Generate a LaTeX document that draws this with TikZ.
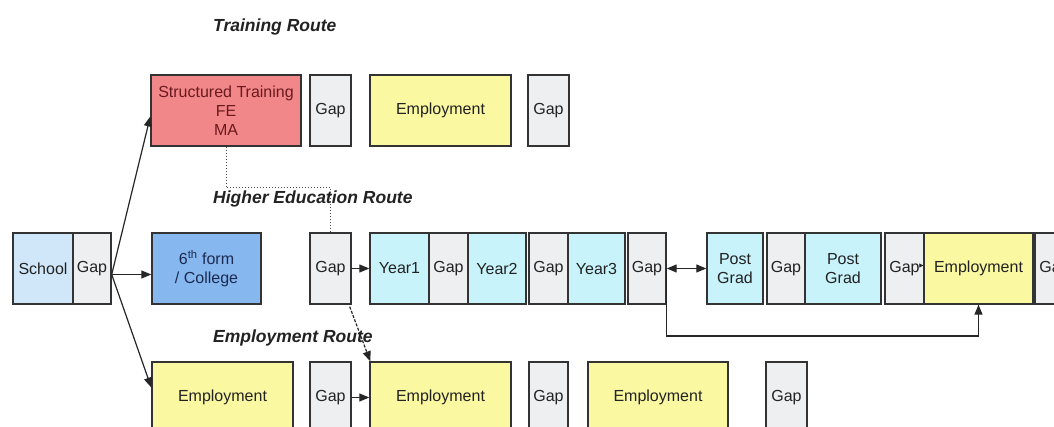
\documentclass[tikz,border=0pt]{standalone}
\usepackage{fontspec}
\setmainfont{Liberation Sans}
\usetikzlibrary{arrows.meta}

\definecolor{boxline}{HTML}{333333}
\definecolor{txt}{HTML}{222222}
\definecolor{gapfill}{HTML}{EDEFF1}
\definecolor{schoolfill}{HTML}{CFE7F8}
\definecolor{collegefill}{HTML}{86B7EE}
\definecolor{yearfill}{HTML}{C8F3FA}
\definecolor{jobfill}{HTML}{FAF8A0}
\definecolor{trainfill}{HTML}{F2878A}
\definecolor{traintxt}{HTML}{6A1A1E}
\definecolor{collegetxt}{HTML}{1C2A52}

\tikzset{
  box/.style={draw=boxline, line width=1.4pt, inner sep=0pt, align=center,
    font=\fontsize{16}{19}\selectfont, text=txt},
  gapbox/.style={box, fill=gapfill},
  schoolbox/.style={box, fill=schoolfill},
  collegebox/.style={box, fill=collegefill, text=collegetxt},
  yearbox/.style={box, fill=yearfill},
  jobbox/.style={box, fill=jobfill},
  trainbox/.style={box, fill=trainfill, text=traintxt},
  routetitle/.style={anchor=west, inner sep=0pt, text=txt,
    font=\fontsize{17.5}{20}\selectfont\bfseries\itshape},
  tip/.style={Triangle[length=10pt,width=8pt]},
  link/.style={draw=black!85, line width=1.2pt, -{Triangle[length=10pt,width=8pt]}},
  twolink/.style={draw=black!85, line width=1.2pt,
    {Triangle[length=10pt,width=8pt]}-{Triangle[length=10pt,width=8pt]}},
  dashlink/.style={link, dashed, dash pattern=on 3pt off 1.5pt},
  dotlink/.style={draw=black!70, line width=1pt, dotted},
}

% \bx{name}{left}{right}{centre y}{style}{text}
\newcommand{\bx}[6]{%
  \node[#5, minimum width={#3pt-#2pt}, minimum height=71pt] (#1)
    at ({(#2+#3)/2},#4) {#6};}

\begin{document}
\begin{tikzpicture}[x=1pt, y=-1pt]
  \clip (0,0) rectangle (1054,427);
  \fill[white] (0,0) rectangle (1054,427);

  % route titles
  \node[routetitle] (ttrain) at (213,27) {Training Route};
  \node[routetitle] (thigher) at (213,199) {Higher Education Route};
  \node[routetitle] (temploy) at (213,338) {Employment Route};

  % training route
  \bx{st}{151}{301}{110.5}{trainbox}{Structured Training\\FE\\MA}
  \bx{tg1}{310}{351}{110.5}{gapbox}{Gap}
  \bx{te1}{370}{511}{110.5}{jobbox}{Employment}
  \bx{tg2}{528}{569}{110.5}{gapbox}{Gap}

  % higher education route
  \bx{school}{13}{73}{268.5}{schoolbox}{School}
  \bx{sg}{73}{111}{268.5}{gapbox}{Gap}
  \bx{six}{152}{261}{268.5}{collegebox}{6\textsuperscript{th} form\\/ College}
  \bx{hg}{310}{351}{268.5}{gapbox}{Gap}
  \bx{y1}{370}{429}{268.5}{yearbox}{Year1}
  \bx{ga}{429}{468}{268.5}{gapbox}{Gap}
  \bx{y2}{468}{526}{268.5}{yearbox}{Year2}
  \bx{gb}{529}{568}{268.5}{gapbox}{Gap}
  \bx{y3}{568}{625}{268.5}{yearbox}{Year3}
  \bx{gc}{628}{666}{268.5}{gapbox}{Gap}
  \bx{p1}{707}{763}{268.5}{yearbox}{Post\\Grad}
  \bx{gd}{767}{805}{268.5}{gapbox}{Gap}
  \bx{p2}{805}{881}{268.5}{yearbox}{Post\\Grad}
  \bx{ge}{885}{924}{268.5}{gapbox}{Gap}
  \bx{he}{924}{1033}{268.5}{jobbox}{Employment}
  \bx{gf}{1035}{1074}{268.5}{gapbox}{Gap}

  % employment route
  \bx{ee1}{152}{293}{397.5}{jobbox}{Employment}
  \bx{eg1}{310}{351}{397.5}{gapbox}{Gap}
  \bx{ee2}{370}{511}{397.5}{jobbox}{Employment}
  \bx{eg2}{529}{568}{397.5}{gapbox}{Gap}
  \bx{ee3}{588}{728}{397.5}{jobbox}{Employment}
  \bx{eg3}{766}{807}{397.5}{gapbox}{Gap}

  % connectors
  \coordinate (fork) at ([yshift=-6pt]sg.east);
  \coordinate (dotrow) at (0,188);
  \coordinate (lowrow) at (0,336);

  \draw[link] (fork) -- ([yshift=-6pt]st.west);
  \draw[link] (fork) -- (six.west |- fork);
  \draw[link] (fork) -- ([yshift=10pt]ee1.west);

  \draw[dotlink] (st.south) -- (st.south |- dotrow) -| (hg.north);

  \draw[link] (hg.east) -- (y1.west);
  \draw[link] (eg1.east) -- (ee2.west);
  \draw[dashlink] ([xshift=-2pt,yshift=-2pt]hg.south east) -- ([xshift=1pt]ee2.north west);

  \draw[twolink] (gc.east) -- (p1.west);
  \draw[draw=black!85, line width=1.2pt] (gc.east) -- (gc.east |- lowrow) -| (he.south);
  \draw[link] ([yshift=-14pt]he.south) -- (he.south);
  \draw[draw=black!85, line width=0.8pt, -{Triangle[length=4pt,width=4pt]}]
    ([xshift=-3pt,yshift=3pt]ge.east) -- ([yshift=3pt]he.west);
\end{tikzpicture}
\end{document}
